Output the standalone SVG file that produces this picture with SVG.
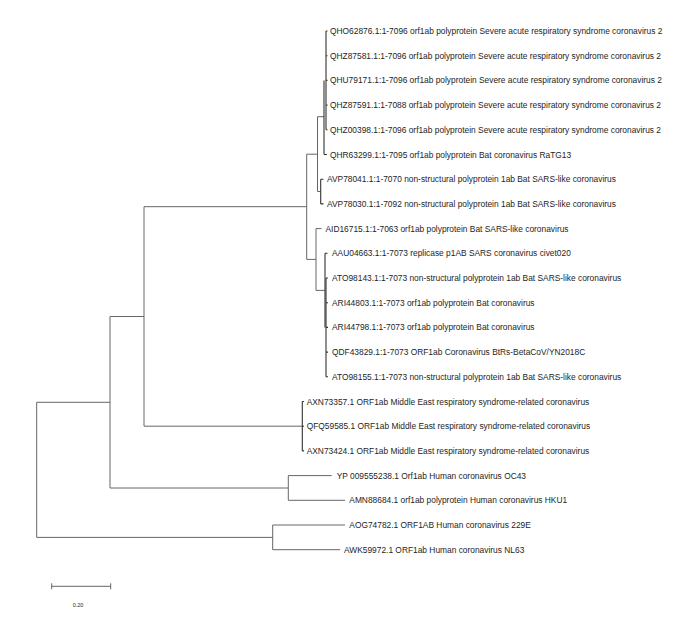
<svg xmlns="http://www.w3.org/2000/svg" width="700" height="628" viewBox="0 0 700 628">
<style>
.br{fill:none;stroke:#666;stroke-width:1;}
.lf{fill:none;stroke:#333;stroke-width:1.1;}
text{font-family:"Liberation Sans",Arial,sans-serif;font-size:8.4px;fill:#1e1e1e;}
.sc{font-size:5.5px;text-anchor:middle;}
</style>
<rect width="700" height="628" fill="#fff"/>
<g id="connectors">
<path class="br" d="M36.7,402.3V537.4M36.7,402.3H110M36.7,537.4H272.7"/>
<path class="br" d="M110,316.5V488M110,316.5H144M110,488H288.3"/>
<path class="br" d="M144,206.7V426.2M144,206.7H306.7M144,426.2H302.3"/>
<path class="lf" d="M302.3,401.5V450.9M302.3,401.5H304M302.3,426.2H304M302.3,450.9H304"/>
<path class="br" d="M288.3,475.6V500.3M288.3,475.6H331.7M288.3,500.3H345"/>
<path class="br" d="M272.7,525V549.7M272.7,525H345M272.7,549.7H340"/>
<path class="br" d="M306.7,154.2V259.4M306.7,154.2H317.5M306.7,259.4H316"/>
<path class="br" d="M317.5,116.7V191.5M317.5,116.7H324M317.5,191.5H320.7"/>
<path class="lf" d="M324,80.4V154.5M324,154.5H327"/>
<path class="lf" d="M326,31V129.8M326,31H327.5M326,55.7H327.5M326,80.4H327.5M326,105.1H327.5M326,129.8H327.5"/>
<path class="lf" d="M320.7,179.2V203.9M320.7,179.2H323.5M320.7,203.9H323.5"/>
<path class="br" d="M316,228.6V290.4M316,228.6H321.5M316,290.4H325"/>
<path class="lf" d="M325,253.3V327.4M325,253.3H327.5"/>
<path class="lf" d="M326,278V376.8M326,278H328M326,302.7H328M326,327.4H328M326,352.1H328M326,376.8H328"/>
</g>
<g id="leaf-QHO62876"><text x="330" y="34">QHO62876.1:1-7096 orf1ab polyprotein Severe acute respiratory syndrome coronavirus 2</text></g>
<g id="leaf-QHZ87581"><text x="330" y="58.7">QHZ87581.1:1-7096 orf1ab polyprotein Severe acute respiratory syndrome coronavirus 2</text></g>
<g id="leaf-QHU79171"><text x="330" y="83.4">QHU79171.1:1-7096 orf1ab polyprotein Severe acute respiratory syndrome coronavirus 2</text></g>
<g id="leaf-QHZ87591"><text x="330" y="108.1">QHZ87591.1:1-7088 orf1ab polyprotein Severe acute respiratory syndrome coronavirus 2</text></g>
<g id="leaf-QHZ00398"><text x="330" y="132.8">QHZ00398.1:1-7096 orf1ab polyprotein Severe acute respiratory syndrome coronavirus 2</text></g>
<g id="leaf-QHR63299"><text x="330" y="157.5">QHR63299.1:1-7095 orf1ab polyprotein Bat coronavirus RaTG13</text></g>
<g id="leaf-AVP78041"><text x="327" y="182.2">AVP78041.1:1-7070 non-structural polyprotein 1ab Bat SARS-like coronavirus</text></g>
<g id="leaf-AVP78030"><text x="327" y="206.9">AVP78030.1:1-7092 non-structural polyprotein 1ab Bat SARS-like coronavirus</text></g>
<g id="leaf-AID16715"><text x="325.5" y="231.6">AID16715.1:1-7063 orf1ab polyprotein Bat SARS-like coronavirus</text></g>
<g id="leaf-AAU04663"><text x="332" y="256.3">AAU04663.1:1-7073 replicase p1AB SARS coronavirus civet020</text></g>
<g id="leaf-ATO98143"><text x="332" y="281">ATO98143.1:1-7073 non-structural polyprotein 1ab Bat SARS-like coronavirus</text></g>
<g id="leaf-ARI44803"><text x="332" y="305.7">ARI44803.1:1-7073 orf1ab polyprotein Bat coronavirus</text></g>
<g id="leaf-ARI44798"><text x="332" y="330.4">ARI44798.1:1-7073 orf1ab polyprotein Bat coronavirus</text></g>
<g id="leaf-QDF43829"><text x="332" y="355.1">QDF43829.1:1-7073 ORF1ab Coronavirus BtRs-BetaCoV/YN2018C</text></g>
<g id="leaf-ATO98155"><text x="332" y="379.8">ATO98155.1:1-7073 non-structural polyprotein 1ab Bat SARS-like coronavirus</text></g>
<g id="leaf-AXN73357"><text x="306.7" y="404.5">AXN73357.1 ORF1ab Middle East respiratory syndrome-related coronavirus</text></g>
<g id="leaf-QFQ59585"><text x="306.7" y="429.2">QFQ59585.1 ORF1ab Middle East respiratory syndrome-related coronavirus</text></g>
<g id="leaf-AXN73424"><text x="306.7" y="453.9">AXN73424.1 ORF1ab Middle East respiratory syndrome-related coronavirus</text></g>
<g id="leaf-YP009555238"><text x="336.7" y="478.6">YP 009555238.1 Orf1ab Human coronavirus OC43</text></g>
<g id="leaf-AMN88684"><text x="349.3" y="503.3">AMN88684.1 orf1ab polyprotein Human coronavirus HKU1</text></g>
<g id="leaf-AOG74782"><text x="349.3" y="528">AOG74782.1 ORF1AB Human coronavirus 229E</text></g>
<g id="leaf-AWK59972"><text x="344" y="552.7">AWK59972.1 ORF1ab Human coronavirus NL63</text></g>
<g id="scale-bar">
<path class="br" d="M51.7,586.3H110.7M51.7,583.3V589.3M110.7,583.3V589.3"/>
<text class="sc" x="78" y="607">0.20</text>
</g>
</svg>
